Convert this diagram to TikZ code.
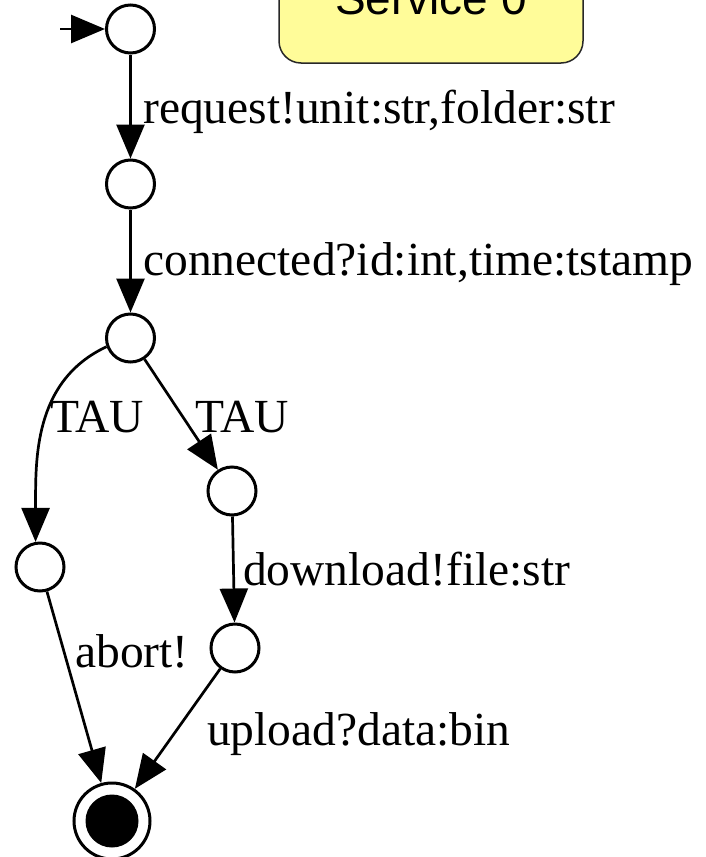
\documentclass[tikz,border=0pt]{standalone}
\usepackage{fontspec}
\setmainfont{Liberation Serif}
\newfontfamily\boxfont{Liberation Sans}
\usetikzlibrary{arrows.meta}
\definecolor{notefill}{RGB}{255,252,153}
\definecolor{noteline}{RGB}{40,40,40}
\tikzset{
  state/.style={circle, draw=black, line width=3pt, fill=white, inner sep=0pt, minimum size=48pt},
  trans/.style={line width=2.7pt, -{Triangle[length=34pt,width=28pt]}},
  lbl/.style={anchor=base west, inner sep=0pt, font=\fontsize{47.5}{52}\selectfont},
}
\begin{document}
\begin{tikzpicture}[x=1pt,y=-1pt]
  \useasboundingbox (0,0) rectangle (705,857);
  \clip (0,0) rectangle (705,857);

  % title note
  \draw[fill=notefill, draw=noteline, line width=1.5pt, rounded corners=22pt]
    (279,-40) rectangle (583,63);
  \node[anchor=base, inner sep=0pt, font=\boxfont\fontsize{46}{50}\selectfont] (title) at (431,14) {Service 0};

  % states
  \node[state] (n1) at (130.5,29) {};
  \node[state] (n2) at (130.5,184) {};
  \node[state] (n3) at (130.5,338) {};
  \node[state] (n4) at (232,491) {};
  \node[state] (n5) at (40,567) {};
  \node[state] (n6) at (235,648) {};
  \node[circle, draw=black, line width=3pt, fill=white, inner sep=0pt, minimum size=76pt] (fin) at (112,821) {};
  \fill[black] (fin.center) circle (26.5pt);

  % initial arrow
  \coordinate (start) at (60,29);
  \draw[trans] (start) -- (n1);

  % transitions
  \draw[trans] (n1) -- (n2);
  \draw[trans] (n2) -- (n3);
  \draw[trans] (n3.200) to[out=205,in=90] (n5.100);
  \draw[trans] (n3) -- (n4);
  \draw[trans] (n4) -- (n6);
  \draw[trans] (n5) -- (fin);
  \draw[trans] (n6) -- (fin);

  % transition labels
  \node[lbl] (l1) at (143,123) {request!unit:str,folder:str};
  \node[lbl] (l2) at (143,275) {connected?id:int,time:tstamp};
  \node[lbl] (l3) at (50,432) {TAU};
  \node[lbl] (l4) at (195,432) {TAU};
  \node[lbl] (l5) at (243,585) {download!file:str};
  \node[lbl] (l6) at (75,667) {abort!};
  \node[lbl] (l7) at (207,745) {upload?data:bin};
\end{tikzpicture}
\end{document}
